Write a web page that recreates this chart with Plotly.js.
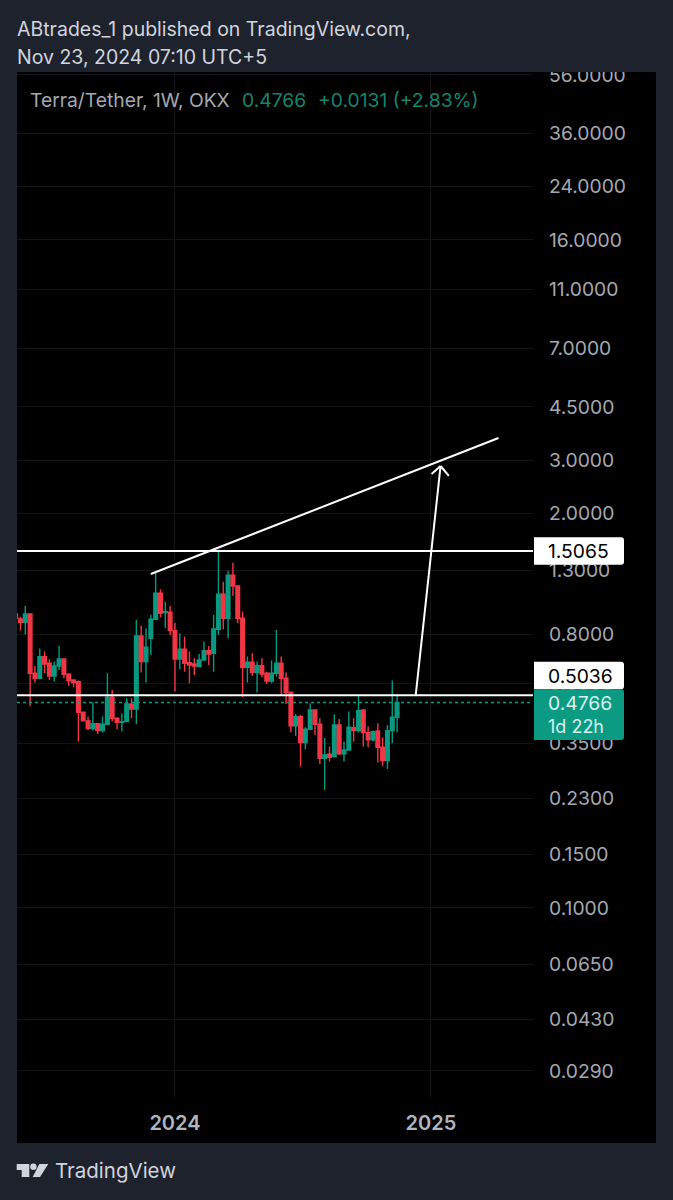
<!DOCTYPE html>
<html><head><meta charset="utf-8">
<script src="https://cdn.plot.ly/plotly-3.0.1.min.js"></script>
<style>html,body{margin:0;padding:0;background:#1e222d}#c{width:673px;height:1200px}</style>
</head><body><div id="c"></div>
<script>
const dates=["2023-05-15","2023-05-22","2023-05-29","2023-06-05","2023-06-12","2023-06-19","2023-06-26","2023-07-03","2023-07-10","2023-07-17","2023-07-24","2023-07-31","2023-08-07","2023-08-14","2023-08-21","2023-08-28","2023-09-04","2023-09-11","2023-09-18","2023-09-25","2023-10-02","2023-10-09","2023-10-16","2023-10-23","2023-10-30","2023-11-06","2023-11-13","2023-11-20","2023-11-27","2023-12-04","2023-12-11","2023-12-18","2023-12-25","2024-01-01","2024-01-08","2024-01-15","2024-01-22","2024-01-29","2024-02-05","2024-02-12","2024-02-19","2024-02-26","2024-03-04","2024-03-11","2024-03-18","2024-03-25","2024-04-01","2024-04-08","2024-04-15","2024-04-22","2024-04-29","2024-05-06","2024-05-13","2024-05-20","2024-05-27","2024-06-03","2024-06-10","2024-06-17","2024-06-24","2024-07-01","2024-07-08","2024-07-15","2024-07-22","2024-07-29","2024-08-05","2024-08-12","2024-08-19","2024-08-26","2024-09-02","2024-09-09","2024-09-16","2024-09-23","2024-09-30","2024-10-07","2024-10-14","2024-10-21","2024-10-28","2024-11-04","2024-11-11","2024-11-18"];
const opens=[.9333,.8985,.8761,.9333,.5947,.5726,.6750,.6416,.5827,.6288,.6632,.5902,.5654,.5583,.4423,.4142,.3906,.4058,.3848,.4038,.4957,.4226,.4099,.4120,.4700,.4536,.7897,.6498,.7758,.8962,1.0919,.9427,.9451,.8224,.6632,.7136,.6449,.6384,.6256,.6581,.7064,.6923,.8307,1.0837,.9031,1.2519,1.1544,.9031,.6225,.6465,.5977,.6304,.5947,.5611,.5947,.6416,.5726,.5148,.3987,.4280,.3513,.3886,.4502,.4038,.3118,.3215,.3158,.4018,.3223,.3322,.3937,.3848,.4502,.3790,.3585,.3838,.3391,.3064,.3848,.4258];
const highs=[.9333,.9145,.9917,.9333,.6288,.7173,.7011,.6614,.6498,.7337,.6665,.5947,.5683,.5625,.4423,.4280,.4772,.4068,.4280,.5947,.5240,.4258,.4389,.4919,.4919,.8917,.8541,.8370,.9262,1.2774,1.1255,1.0249,.9917,.8738,.8058,.7857,.7011,.6665,.6888,.7564,.7319,.9262,1.5254,1.1930,1.2966,1.3782,1.1631,.9500,.6750,.6923,.6498,.6665,.6022,.6548,.8265,.6750,.5977,.5174,.4367,.4334,.3947,.4736,.4502,.4226,.3640,.3408,.4356,.4205,.3540,.4445,.4226,.5045,.4525,.3967,.3848,.4068,.3658,.4018,.5625,.5045];
const lows=[.8917,.8224,.7977,.4640,.5540,.5683,.5947,.5654,.5583,.6100,.5726,.5402,.5348,.3540,.4120,.3867,.3848,.3752,.3790,.4018,.4120,.3886,.3819,.4120,.4226,.4048,.5977,.5540,.6836,.8917,.9099,.8370,.7957,.5174,.6131,.6022,.5512,.5872,.6225,.6548,.6335,.6022,.7957,.8307,.7758,1.0699,.8694,.4957,.5540,.5827,.5135,.5769,.5485,.5512,.5798,.5007,.4712,.3790,.3696,.2927,.3339,.3886,.3724,.2987,.2452,.3040,.3158,.3198,.3040,.3305,.3540,.3790,.3408,.3391,.3540,.3017,.2942,.2875,.3495,.3790];
const closes=[.9031,.8761,.9333,.5947,.5726,.6750,.6384,.5827,.6288,.6632,.5902,.5625,.5540,.4423,.4142,.3906,.4058,.3848,.4038,.4957,.4226,.4099,.4120,.4712,.4536,.7897,.6498,.7245,.8962,1.0919,.9380,.9498,.8224,.6632,.7136,.6416,.6335,.6288,.6581,.7064,.6888,.8328,1.0837,.9031,1.2519,1.1544,.9031,.6225,.6465,.5977,.6304,.5917,.5611,.5947,.6416,.5726,.5148,.3987,.4280,.3513,.3886,.4502,.4038,.3118,.3198,.3142,.4018,.3223,.3322,.3947,.3848,.4479,.3790,.3585,.3819,.3391,.3064,.3848,.4258,.4766];
const priceTicks=[56,36,24,16,11,7,4.5,3,2,1.3,0.8,0.55,0.35,0.23,0.15,0.1,0.065,0.043,0.029];
const priceLabels=["56.0000","36.0000","24.0000","16.0000","11.0000","7.0000","4.5000","3.0000","2.0000","1.3000","0.8000","0.5500","0.3500","0.2300","0.1500","0.1000","0.0650","0.0430","0.0290"];
const yearTicks=["2024-01-01","2025-01-06"];
const yearLabels=["2024","2025"];
const levelHigh=1.5065, levelMid=0.5036, lastPrice=0.4766;
const trendLine=[["2023-11-27",1.264],["2025-04-14",3.553]];
const arrowShaft=[["2024-12-15",0.5036],["2025-01-20",2.872]];
const arrowHeadL=[["2025-01-07",2.703],["2025-01-20",2.872]];
const arrowHeadR=[["2025-02-01",2.663],["2025-01-20",2.872]];

const BG="#1e222d",GREEN="#089981",RED="#F23645",GRID="#131416",FONT="Inter, 'Noto Sans', sans-serif";
const L=17,R=533,T=72,B=1097;
const px=x=>(x-L)/(R-L), py=y=>1-(y-T)/(B-T);
const rect=(x0,y0,x1,y1,fill,layer)=>({type:"rect",xref:"paper",yref:"paper",x0:px(x0),x1:px(x1),y0:py(y0),y1:py(y1),fillcolor:fill,line:{width:0},layer:layer||"above"});
const poly=(pts,fill)=>({type:"path",xref:"paper",yref:"paper",path:"M"+pts.map(p=>px(p[0])+","+py(p[1])).join("L")+"Z",fillcolor:fill,line:{width:0},layer:"above"});
const pill=(x0,y0,x1,y1,r,fill)=>({type:"path",xref:"paper",yref:"paper",layer:"above",fillcolor:fill,line:{width:0},
 path:`M${px(x0)},${py(y0)}L${px(x1-r)},${py(y0)}Q${px(x1)},${py(y0)} ${px(x1)},${py(y0+r)}L${px(x1)},${py(y1-r)}Q${px(x1)},${py(y1)} ${px(x1-r)},${py(y1)}L${px(x0)},${py(y1)}Z`});
const seg=(a,w)=>({type:"line",xref:"x",yref:"y",x0:a[0][0],y0:a[0][1],x1:a[1][0],y1:a[1][1],line:{color:"#ffffff",width:w},layer:"above"});
const hline=(v,c,w,d)=>({type:"line",xref:"paper",yref:"y",x0:0,x1:1,y0:v,y1:v,line:{color:c,width:w,dash:d||"solid"},layer:"above"});
const txt=(s,x,y,size,color,extra)=>Object.assign({text:s,xref:"paper",yref:"paper",x:px(x),y:py(y),xanchor:"left",yanchor:"middle",showarrow:false,borderpad:0,borderwidth:0,font:{family:FONT,size:size,color:color}},extra||{});

const shapes=[
 rect(17,72,656,1143,"#000000","below"),
 hline(lastPrice,GREEN,1.5,"dot"),
 hline(levelHigh,"#ffffff",2),
 hline(levelMid,"#ffffff",2),
 seg(trendLine,2),seg(arrowShaft,2),seg(arrowHeadL,2),seg(arrowHeadR,2),
 rect(0,0,673,72,BG),
 pill(534,537.3,624,564.7,3,"#ffffff"),
 pill(534,661.7,624,689.3,3,"#ffffff"),
 pill(534,689.3,624,740,3,"#0b9b82"),
 poly([[16.7,1164],[29.3,1164],[29.3,1177],[21.7,1177],[21.7,1170],[16.7,1170]],"#d1d4dc"),
 {type:"circle",xref:"paper",yref:"paper",x0:px(30.2),x1:px(36.6),y0:py(1163.6),y1:py(1170),fillcolor:"#d1d4dc",line:{width:0},layer:"above"},
 poly([[39.3,1164],[48.3,1164],[40,1177],[32.7,1177]],"#d1d4dc")
];
const annotations=[
 txt("ABtrades_1 published on TradingView.com,",17,29,19.5,"#d1d4dc"),
 txt("Nov 23, 2024 07:10 UTC+5",17,57,19.5,"#d1d4dc"),
 txt("Terra/Tether, 1W, OKX",30,100,19.3,"#a6a8b0"),
 txt("0.4766",242,100,19.3,"#15846f"),
 txt("+0.0131 (+2.83%)",318,100,19.3,"#15846f"),
 txt("1.5065",548,551,19.3,"#000000"),
 txt("0.5036",548,675.5,19.3,"#000000"),
 txt("0.4766",548,703,19.3,"#d9f2ec"),
 txt("1d 22h",548,726,18,"#d9f2ec"),
 txt("TradingView",55,1170,20.5,"#d1d4dc")
];
const trace={type:"candlestick",x:dates,open:opens,high:highs,low:lows,close:closes,
 increasing:{line:{color:GREEN,width:1.4},fillcolor:GREEN},
 decreasing:{line:{color:RED,width:1.4},fillcolor:RED},
 whiskerwidth:0,hoverinfo:"skip",showlegend:false};
const layout={width:673,height:1200,paper_bgcolor:BG,plot_bgcolor:"#000000",showlegend:false,
 margin:{l:L,r:673-R,t:T,b:1200-B,pad:0},boxgap:0.25,boxgroupgap:0,dragmode:false,
 xaxis:{type:"date",range:["2023-05-17","2025-06-03"],tickmode:"array",tickvals:yearTicks,ticktext:yearLabels,
  tickfont:{family:FONT,size:20,color:"#b2b5be",weight:600},ticklen:0,ticklabelstandoff:12,showgrid:true,gridcolor:GRID,gridwidth:1,zeroline:false,showline:false,rangeslider:{visible:false},fixedrange:true},
 yaxis:{type:"log",side:"right",range:[-1.6236,1.758],tickmode:"array",tickvals:priceTicks,ticktext:priceLabels,
  tickfont:{family:FONT,size:19.3,color:"#a6a8b0"},ticklen:0,ticklabelstandoff:15,showgrid:true,gridcolor:GRID,gridwidth:1,zeroline:false,showline:false,fixedrange:true},
 shapes:shapes,annotations:annotations};
Plotly.newPlot("c",[trace],layout,{displayModeBar:false,staticPlot:true});
</script></body></html>
